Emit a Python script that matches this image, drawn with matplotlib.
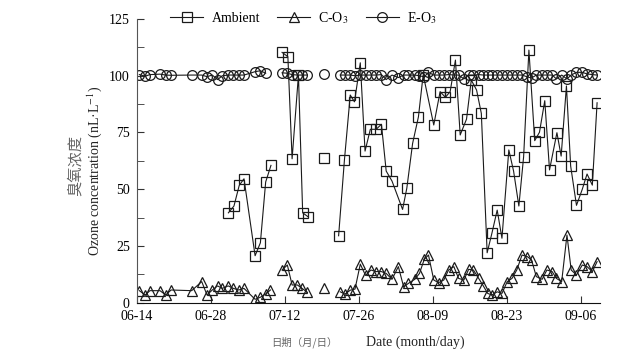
import numpy as np
import matplotlib
matplotlib.use('Agg')
import matplotlib.pyplot as plt
from matplotlib.ticker import MultipleLocator
from matplotlib.lines import Line2D

plt.rcParams['font.family'] = ['Liberation Serif', 'Noto Sans CJK SC']
plt.rcParams['mathtext.fontset'] = 'stix'

nan = np.nan

# x = days after 06-14
amb_day = [17.35, 18.4, 19.4, 20.3, 22.4, 23.4, 24.4, 25.4, 26.5, 27.5, 28.6, 29.4,
           30.6, 31.4, 32.4, 34.0, 35.5, 37.0, 38.2, 39.3, 40.4, 41.2, 42.3, 43.2,
           44.2, 45.3, 46.3, 47.2, 48.3, 50.3, 51.1, 52.2, 53.3, 54.2, 56.2, 57.4,
           58.4, 59.3, 60.3, 61.2, 62.4, 63.3, 64.3, 65.2, 66.3, 67.2, 68.2, 69.1,
           70.4, 71.3, 72.3, 73.2, 74.2, 75.3, 76.2, 77.2, 78.1, 79.5, 80.3, 81.3,
           82.1, 83.2, 84.3, 85.2, 86.2, 87.1]
ambient = [39.6, 42.6, 51.7, 54.6, 20.7, 26.4, 53.2, 60.5, nan, 110.3, 108.4, 63.4,
           100.3, 39.6, 37.9, nan, 63.9, nan, 29.5, 62.9, 91.5, 88.5, 105.7, 66.8,
           76.4, 76.4, 78.6, 58.0, 53.6, 41.1, 50.4, 70.2, 81.9, 100.5, 78.3, 93.0,
           90.5, 93.0, 106.9, 73.9, 80.9, 98.1, 93.7, 83.4, 22.0, 30.6, 40.8, 28.4,
           67.3, 58.0, 42.6, 64.3, 111.3, 71.4, 75.1, 89.0, 58.5, 74.9, 64.6, 95.5,
           60.2, 42.9, 50.0, 56.7, 51.8, 88.1]

day = [0.5, 1.6, 2.5, 4.4, 5.5, 6.5, 10.4, 12.3, 13.3, 14.3, 15.3, 16.2, 17.3, 18.3,
       19.3, 20.3, 22.4, 23.4, 24.4, 25.3, 26.3, 27.5, 28.5, 29.4, 30.4, 31.3, 32.3,
       33.8, 35.4, 36.9,
       38.5, 39.4, 40.4, 41.3, 42.3, 43.3, 44.3, 45.3, 46.3, 47.2, 48.3, 49.5, 50.5,
       51.4, 52.6, 53.5, 54.4, 55.2, 56.2, 57.1, 58.1, 59.0, 60.0, 60.9, 61.9, 62.8,
       63.7, 64.7, 65.6, 66.4, 67.2, 68.2, 69.1, 70.1, 71.0, 71.9, 72.9, 73.9, 74.7,
       75.6, 76.7, 77.6, 78.6, 79.4, 80.4, 81.4, 82.2, 83.2, 84.3, 85.2, 86.2, 87.1]
c_o3 = [5.3, 3.4, 5.3, 5.3, 3.4, 5.6, 5.3, 9.3, 3.4, 5.6, 7.4, 6.3, 7.4, 6.3,
        5.6, 6.3, 1.5, 2.4, 3.8, 5.6, nan, 14.4, 16.6, 7.8, 7.8, 6.3, 4.5,
        nan, 6.6, nan,
        4.8, 3.8, 5.5, 6.0, 17.0, 12.0, 14.4, 13.7, 13.7, 12.9, 10.3, 15.9, 7.0,
        8.5, 10.3, 12.9, 19.1, 21.0, 10.0, 8.8, 10.0, 14.4, 15.9, 10.7, 10.0, 14.7,
        14.4, 10.7, 7.3, 4.1, 3.4, 4.8, 4.1, 9.3, 10.7, 14.4, 21.0, 20.3, 18.8,
        11.5, 10.3, 14.4, 13.7, 10.7, 9.3, 29.8, 14.4, 12.2, 16.6, 15.9, 13.7, 18.1]
e_o3 = [100.5, 99.8, 100.5, 100.7, 100.3, 100.2, 100.3, 100.3, 99.6, 100.3, 98.3, 100.0,
        100.3, 100.3, 100.3, 100.3, 101.8, 102.2, 101.1, nan, nan, 101.3, 101.1, 100.5,
        100.3, 100.3, 100.3, nan, 100.8, nan,
        100.3, 100.3, 100.3, 100.0, 100.3, 100.3, 100.3, 100.3, 100.5, 98.3, 100.3, 99.2,
        100.3, 100.3, 100.3, 100.0, 99.5, 101.5, 100.3, 100.3, 100.3, 100.5, 100.3, 100.3,
        98.6, 100.3, 100.3, 100.5, 100.3, 100.3, 100.3, 100.3, 100.3, 100.3, 100.3, 100.3,
        100.3, 99.5, 99.0, 100.3, 100.3, 100.3, 100.3, 98.6, 100.3, 98.6, 100.3, 101.5,
        101.5, 100.8, 100.5, 100.3]

tick_days = [0, 14, 28, 42, 56, 70, 84]
tick_labels = ['06-14', '06-28', '07-12', '07-26', '08-09', '08-23', '09-06']

fig = plt.figure(figsize=(6.34, 3.57), dpi=100)
ax = fig.add_axes([136.7 / 634, 54.3 / 357, (600 - 136.7) / 634, (302.7 - 19) / 357])

col = '#1a1a1a'
kw = dict(color=col, lw=0.8, mfc='none', mec=col, mew=0.9, ms=7)
ax.plot(amb_day, ambient, marker='s', **kw)
ax.plot(day, c_o3, marker='^', **kw)
ax.plot(day, e_o3, marker='o', **kw)

ax.set_xlim(0, 87.65)
ax.set_ylim(0, 125)
ax.set_xticks(tick_days)
ax.set_xticklabels(tick_labels)
ax.yaxis.set_major_locator(MultipleLocator(25))
ax.yaxis.set_minor_locator(MultipleLocator(12.5))
ax.tick_params(axis='both', which='both', direction='in', labelsize=10, pad=5,
               color='#333333')
ax.tick_params(axis='both', which='major', length=5)
ax.tick_params(axis='y', which='minor', length=5)
for s in ['top', 'right']:
    ax.spines[s].set_visible(False)
ax.spines['left'].set_color('#555555')
ax.spines['bottom'].set_color('#111111')

handles = [Line2D([], [], marker=m, **kw) for m in ['s', '^', 'o']]
fig.legend(handles, ['Ambient', 'C-O$_3$', 'E-O$_3$'], loc='center left',
           bbox_to_anchor=(170 / 634, 1 - 18 / 357), ncol=3, frameon=False,
           fontsize=10, handlelength=2.4, handletextpad=0.6, columnspacing=1.2,
           borderpad=0, borderaxespad=0)

fig.text(75 / 634, 1 - 165 / 357, '臭氧浓度', rotation=90, ha='center', va='center',
         fontsize=11, color='#666666', family=['Noto Sans CJK SC'])
fig.text(95 / 634, 1 - 171 / 357, 'Ozone concentration (nL·L$^{-1}$)', rotation=90,
         ha='center', va='center', fontsize=10, color='#222222')
fig.text(338 / 634, 1 - 342 / 357, '日期（月/日）', ha='right', va='center',
         fontsize=7.5, color='#666666', family=['Noto Sans CJK SC'])
fig.text(366 / 634, 1 - 342 / 357, 'Date (month/day)', ha='left', va='center',
         fontsize=10, color='#222222')

fig.savefig('out.png', dpi=100)
